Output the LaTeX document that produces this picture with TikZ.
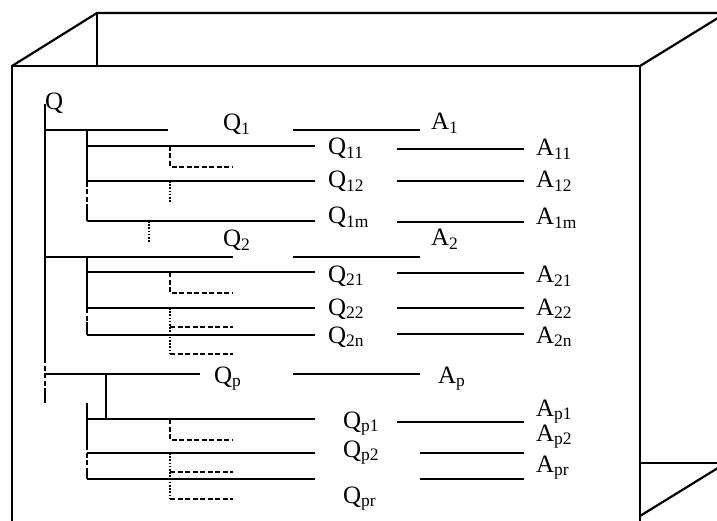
\documentclass[tikz,border=0pt]{standalone}
\usepackage{fontspec}
\setmainfont{Liberation Serif}
\usepackage{tikz}
\usetikzlibrary{calc}

\begin{document}
\begin{tikzpicture}[x=1pt, y=-1pt, line width=2.2pt,
    etich/.style={anchor=base west, inner sep=0pt, font=\fontsize{25}{28}\selectfont},
    tratteggio/.style={line width=2.4pt, dash pattern=on 5pt off 2.5pt},
    puntini/.style={line width=1.9pt, dash pattern=on 1.6pt off 1.6pt}]
    % Parametri
    \pgfmathsetmacro{\xtronco}{45}
    \pgfmathsetmacro{\xramo}{87}
    \pgfmathsetmacro{\xfine}{315}
    \pgfmathsetmacro{\xangolo}{170}
    \pgfmathsetmacro{\xtratto}{233}
    \pgfmathsetmacro{\xrisp}{524}
    \useasboundingbox (0,0) rectangle (717,521);
    \clip (0,0) rectangle (717,521);
    % Scatola
    \coordinate (f1) at (12,530);
    \coordinate (f2) at (12,66);
    \coordinate (f3) at (640,66);
    \coordinate (f4) at (640,530);
    \coordinate (b1) at (97,13);
    \coordinate (b2) at (97,66);
    \draw (f1) -- (f2) -- (f3) -- (f4);
    \draw (f2) -- (b1) -- (730,13);
    \draw (b1) -- (b2);
    \draw (f3) -- (726,13);
    \draw (640,463) -- (730,463);
    \draw (640,516) -- (726,463);
    % Etichette
    \foreach \n/\t/\x/\y in {q/Q/44/110,
        q1/Q\textsubscript{1}/222/131, a1/A\textsubscript{1}/430/130,
        q2/Q\textsubscript{2}/222/247, a2/A\textsubscript{2}/430/246,
        qp/Q\textsubscript{p}/213/383, ap/A\textsubscript{p}/437/383,
        q11/Q\textsubscript{11}/327/155, a11/A\textsubscript{11}/535/156,
        q12/Q\textsubscript{12}/327/188, a12/A\textsubscript{12}/535/188,
        q1m/Q\textsubscript{1m}/327/224, a1m/A\textsubscript{1m}/535/225,
        q21/Q\textsubscript{21}/327/282, a21/A\textsubscript{21}/535/283,
        q22/Q\textsubscript{22}/327/315, a22/A\textsubscript{22}/535/315,
        q2n/Q\textsubscript{2n}/327/343, a2n/A\textsubscript{2n}/535/343,
        qp1/Q\textsubscript{p1}/342/428, ap1/A\textsubscript{p1}/535/416,
        qp2/Q\textsubscript{p2}/342/457, ap2/A\textsubscript{p2}/535/441,
        qpr/Q\textsubscript{pr}/342/503, apr/A\textsubscript{pr}/535/472}
        \node[etich] (\n) at (\x,\y) {\t};
    % Tronco
    \coordinate (t0) at (\xtronco,104);
    \coordinate (t1) at (\xtronco,358);
    \coordinate (t2) at (\xtronco,390);
    \coordinate (t3) at (\xtronco,403);
    \draw (t0) -- (t1);
    \draw[tratteggio] (t1) -- (t2);
    \draw (t2) -- (t3);
    % Primo livello
    \foreach \n/\y/\xe in {1/130/168, 2/257/233, p/374/200} {
        \coordinate (g\n) at (\xtronco,\y);
        \coordinate (g\n e) at (\xe,\y);
        \coordinate (g\n s) at (293,\y);
        \coordinate (g\n f) at (420,\y);
        \draw (g\n) -- (g\n e);
        \draw (g\n s) -- (g\n f);
    }
    % Secondo livello
    \foreach \n/\y in {11/146, 12/181, 1m/221, 21/272, 22/308, 2n/335, p1/419, p2/453, pr/479} {
        \coordinate (r\n) at (\xramo,\y);
        \coordinate (r\n e) at (\xfine,\y);
        \draw (r\n) -- (r\n e);
    }
    \foreach \n/\xs/\y in {11/397/149, 12/397/181, 1m/397/222, 21/397/273, 22/397/308, 2n/397/334, p1/397/422, p2/420/453, pr/420/479} {
        \coordinate (s\n) at (\xs,\y);
        \coordinate (s\n e) at (\xrisp,\y);
        \draw (s\n) -- (s\n e);
    }
    % Rami verticali
    \coordinate (v1a) at (\xramo,130);
    \coordinate (v1b) at (\xramo,182);
    \coordinate (v1c) at (\xramo,206);
    \draw (v1a) -- (v1b);
    \draw[tratteggio] (v1b) -- (v1c);
    \draw (v1c) -- (r1m);
    \coordinate (v2a) at (\xramo,257);
    \coordinate (v2c) at (\xramo,322);
    \draw (v2a) -- (r22);
    \draw[tratteggio] (r22) -- (v2c);
    \draw (v2c) -- (r2n);
    \coordinate (vpa) at (106,374);
    \coordinate (vpb) at (106,418);
    \draw (vpa) -- (vpb);
    \coordinate (v3a) at (\xramo,403);
    \coordinate (v3b) at (\xramo,445);
    \coordinate (v3c) at (\xramo,468);
    \draw (v3a) -- (v3b);
    \draw[tratteggio] (v3b) -- (v3c);
    \draw (v3c) -- (rpr);
    % Angoli tratteggiati
    \foreach \y in {146, 272, 419}
        \draw[tratteggio] (\xangolo,\y) -- ++(0,21) -- (\xtratto,\y+21);
    \foreach \y in {327, 354, 472, 499}
        \draw[tratteggio] (\xangolo,\y) -- (\xtratto,\y);
    \draw[puntini] (\xangolo,181) -- (\xangolo,202);
    \draw[puntini] (149,221) -- (149,243);
    \draw[puntini] (\xangolo,308) -- (\xangolo,354);
    \draw[puntini] (\xangolo,453) -- (\xangolo,499);
\end{tikzpicture}
\end{document}
